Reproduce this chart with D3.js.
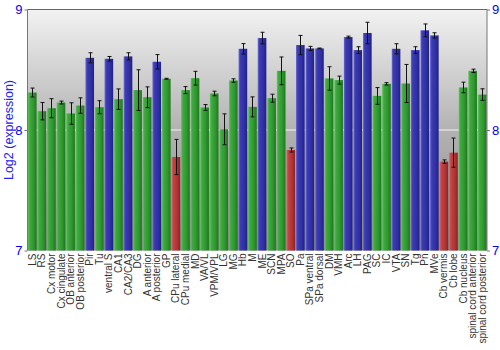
<!DOCTYPE html>
<html><head><meta charset="utf-8">
<script src="https://cdn.jsdelivr.net/npm/d3@7"></script>
<style>body{margin:0;background:#fff}svg{display:block}</style>
</head><body>
<svg id="c" width="500" height="350"></svg>
<script>
const labels = ["LS","RS","Cx motor","Cx cingulate","OB anterior","OB posterior","Pir","Tu","ventral S","CA1","CA2/CA3","DG","A anterior","A posterior","GP","CPu lateral","CPu medial","MD","VA/VL","VPM/VPL","LG","MG","Hb","M","ME","SCN","MPA","SO","Pa","SPa ventral","SPa dorsal","DM","VMH","Arc","LH","PAG","SC","IC","VTA","SN","Tg","Pn","MVe","Cb vermis","Cb lobe","Cb nucleus","spinal cord anterior","spinal cord posterior"];
const values = [8.311,8.156,8.181,8.228,8.137,8.203,8.599,8.189,8.591,8.256,8.611,8.331,8.272,8.566,8.425,7.776,8.331,8.430,8.187,8.303,8.006,8.411,8.674,8.192,8.763,8.264,8.491,7.834,8.705,8.677,8.677,8.428,8.414,8.771,8.663,8.805,8.283,8.383,8.674,8.386,8.663,8.827,8.785,7.738,7.812,8.353,8.491,8.294];
const errors = [0.037,0.072,0.079,0.012,0.089,0.064,0.042,0.054,0.019,0.085,0.030,0.169,0.086,0.060,0.004,0.146,0.029,0.057,0.024,0.019,0.128,0.014,0.043,0.083,0.048,0.033,0.115,0.017,0.080,0.017,0.003,0.097,0.033,0.008,0.028,0.089,0.069,0.010,0.042,0.158,0.028,0.053,0.022,0.014,0.121,0.044,0.014,0.048];
const groups = ["g","g","g","g","g","g","b","g","b","g","b","g","g","b","g","r","g","g","g","g","g","g","b","g","b","g","g","r","b","b","b","g","g","b","b","b","g","g","b","g","b","b","b","r","r","g","g","g"];
const yTicks = [7,8,9];
const yTitle = "Log2 (expression)";

const svg = d3.select("#c");
const L = 27.5, R = 487, T = 9.5, B = 250.5;
const x = d3.scaleBand().domain(labels).range([L, R]).paddingInner(0.1).paddingOuter(0.05);
const y = d3.scaleLinear().domain([7, 9]).range([B, T]);

const defs = svg.append("defs");
const bg = defs.append("linearGradient").attr("id","bg").attr("x1",0).attr("y1",0).attr("x2",0).attr("y2",1);
bg.append("stop").attr("offset","0%").attr("stop-color","#f2f2f2");
bg.append("stop").attr("offset","50%").attr("stop-color","#b2b2b2");
bg.append("stop").attr("offset","100%").attr("stop-color","#8a8a8a");
const pal = {
  g: ["#62c262","#3fa93f","#2e962e","#1d771d"],
  b: ["#6c6cd2","#3c3cb4","#3030a2","#20208a"],
  r: ["#d46a6a","#c24444","#b03434","#8e2222"]
};
Object.entries(pal).forEach(([k,c])=>{
  const g = defs.append("linearGradient").attr("id","grad_"+k).attr("x1",0).attr("y1",0).attr("x2",1).attr("y2",0);
  g.append("stop").attr("offset","0%").attr("stop-color",c[0]);
  g.append("stop").attr("offset","20%").attr("stop-color",c[1]);
  g.append("stop").attr("offset","65%").attr("stop-color",c[2]);
  g.append("stop").attr("offset","100%").attr("stop-color",c[3]);
});

svg.append("rect").attr("x",L).attr("y",T).attr("width",R-L).attr("height",B-T).attr("fill","url(#bg)");
// gridline at 8
svg.append("line").attr("x1",L).attr("x2",R).attr("y1",y(8)).attr("y2",y(8)).attr("stroke","#f4f4f4").attr("stroke-width",1.2);

const data = labels.map((l,i)=>({l, v:values[i], e:errors[i], g:groups[i]}));
svg.append("g").selectAll("rect").data(data).join("rect")
  .attr("x",d=>x(d.l)).attr("width",x.bandwidth())
  .attr("y",d=>y(d.v)).attr("height",d=>y(7)-y(d.v))
  .attr("fill",d=>"url(#grad_"+d.g+")");

const eb = svg.append("g").attr("stroke","#111").attr("stroke-width",1);
data.forEach(d=>{
  const cx = Math.round(x(d.l)+x.bandwidth()/2)+0.5;
  eb.append("line").attr("x1",cx).attr("x2",cx).attr("y1",y(d.v+d.e)).attr("y2",y(d.v-d.e));
  eb.append("line").attr("x1",cx-2).attr("x2",cx+2).attr("y1",y(d.v+d.e)).attr("y2",y(d.v+d.e));
  eb.append("line").attr("x1",cx-2).attr("x2",cx+2).attr("y1",y(d.v-d.e)).attr("y2",y(d.v-d.e));
});

// frame
svg.append("line").attr("x1",L).attr("x2",R).attr("y1",T).attr("y2",T).attr("stroke","#666");
svg.append("line").attr("x1",L).attr("x2",L).attr("y1",T).attr("y2",B).attr("stroke","#777");
svg.append("line").attr("x1",R).attr("x2",R).attr("y1",T).attr("y2",B).attr("stroke","#777");

const fontY = "Liberation Sans, Arial, sans-serif";
const la = svg.append("g").attr("transform",`translate(${L},0)`)
  .call(d3.axisLeft(y).tickValues(yTicks).tickFormat(d3.format("d")).tickSize(3).tickPadding(2));
const ra = svg.append("g").attr("transform",`translate(${R},0)`)
  .call(d3.axisRight(y).tickValues(yTicks).tickFormat(d3.format("d")).tickSize(3).tickPadding(2));
[la,ra].forEach(a=>{
  a.select(".domain").remove();
  a.selectAll("line").attr("stroke","#777");
  a.selectAll("text").attr("fill","#0000ff").style("font-family",fontY).style("font-size","13px");
});

svg.append("text").attr("transform",`translate(13,${(T+B)/2}) rotate(-90)`)
  .attr("text-anchor","middle").attr("fill","#2222ee")
  .style("font-family",fontY).style("font-size","12.5px").text(yTitle);

const xa = svg.append("g").attr("transform",`translate(0,${B})`)
  .call(d3.axisBottom(x).tickSize(0).tickPadding(0));
xa.select(".domain").remove();
xa.selectAll("text")
  .attr("transform","rotate(-90)").attr("text-anchor","end")
  .attr("x",-3).attr("y",0).attr("dy","0.35em")
  .attr("fill","#333").style("font-family",fontY).style("font-size","10px");
</script>
</body></html>
